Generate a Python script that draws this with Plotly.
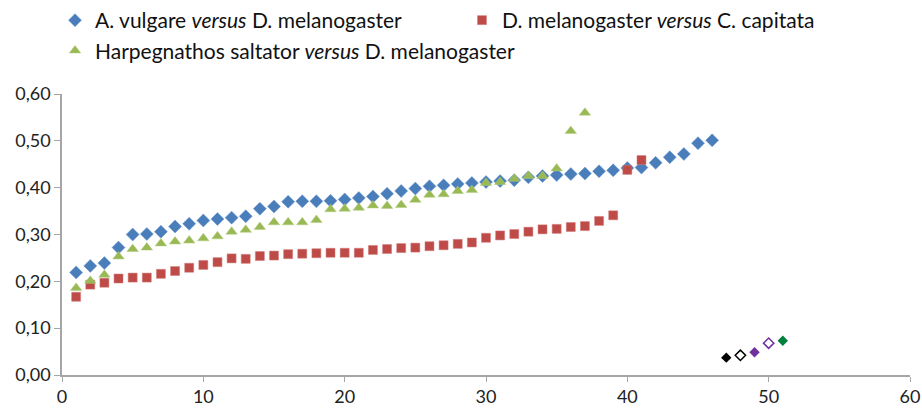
import plotly.graph_objects as go

# Series values (index 1..n)
vulgare = [0.219, 0.233, 0.239, 0.272, 0.300, 0.301, 0.306, 0.317, 0.323, 0.330,
           0.333, 0.336, 0.339, 0.355, 0.360, 0.370, 0.371, 0.371, 0.372, 0.375,
           0.378, 0.381, 0.387, 0.393, 0.398, 0.403, 0.405, 0.408, 0.410, 0.412,
           0.414, 0.416, 0.422, 0.425, 0.427, 0.429, 0.430, 0.435, 0.437, 0.442,
           0.443, 0.453, 0.465, 0.472, 0.495, 0.501]
capitata = [0.167, 0.193, 0.197, 0.206, 0.208, 0.208, 0.216, 0.222, 0.229, 0.235,
            0.241, 0.249, 0.248, 0.254, 0.255, 0.258, 0.259, 0.260, 0.261, 0.261,
            0.261, 0.267, 0.269, 0.271, 0.272, 0.275, 0.277, 0.280, 0.283, 0.293,
            0.298, 0.301, 0.306, 0.311, 0.312, 0.316, 0.318, 0.329, 0.341, 0.438,
            0.459]
saltator = [0.186, 0.201, 0.214, 0.253, 0.269, 0.272, 0.281, 0.285, 0.287, 0.292,
            0.296, 0.306, 0.310, 0.316, 0.326, 0.326, 0.326, 0.331, 0.354, 0.355,
            0.357, 0.362, 0.361, 0.363, 0.374, 0.385, 0.386, 0.393, 0.395, 0.410,
            0.412, 0.419, 0.425, 0.425, 0.441, 0.521, 0.560]

# Separate single markers at the lower right
extra_x = [47, 48, 49, 50, 51]
extra_y = [0.037, 0.042, 0.0485, 0.068, 0.073]
extra_colors = ["#000000", "#000000", "#7030A0", "#7030A0", "#00803C"]
extra_symbols = ["diamond", "diamond-open", "diamond", "diamond-open", "diamond"]

names = ["A. vulgare <i>versus</i> D. melanogaster",
         "D. melanogaster <i>versus</i> C. capitata",
         "Harpegnathos saltator <i>versus</i> D. melanogaster"]

fig = go.Figure()
fig.add_trace(go.Scatter(x=list(range(1, len(vulgare) + 1)), y=vulgare, mode="markers",
                         name=names[0],
                         marker=dict(symbol="diamond", size=10, color="#4A7EBB",
                                     line=dict(width=0.5, color="#6A96CF"))))
fig.add_trace(go.Scatter(x=list(range(1, len(capitata) + 1)), y=capitata, mode="markers",
                         name=names[1],
                         marker=dict(symbol="square", size=9, color="#BE4B48",
                                     line=dict(width=0.5, color="#D07A78"))))
fig.add_trace(go.Scatter(x=list(range(1, len(saltator) + 1)), y=saltator, mode="markers",
                         name=names[2],
                         marker=dict(symbol="triangle-up", size=10, color="#98B954",
                                     line=dict(width=0.5, color="#B3CD80"))))
for xv, yv, c, s in zip(extra_x, extra_y, extra_colors, extra_symbols):
    fig.add_trace(go.Scatter(x=[xv], y=[yv], mode="markers", showlegend=False,
                             marker=dict(symbol=s, size=8, color=c,
                                         line=dict(width=1.5 if "open" in s else 0, color=c))))

W, H = 922, 408
axis_font = dict(family="Lato", size=18, color="#222222")
fig.update_layout(
    width=W, height=H,
    margin=dict(l=62, r=12, t=94, b=33),
    paper_bgcolor="white", plot_bgcolor="white",
    separators=", ",
    showlegend=True,
    legend=dict(orientation="h", xref="container", x=55 / W, xanchor="left",
                yref="container", y=1.0, yanchor="top",
                entrywidth=362, entrywidthmode="pixels",
                font=dict(family="Lato", size=21, color="#111111"),
                itemwidth=30, bgcolor="rgba(0,0,0,0)"),
    xaxis=dict(range=[0, 60], dtick=10, tick0=0, showgrid=False, zeroline=False,
               showline=True, linecolor="#A6A6A6", linewidth=1.5,
               ticks="outside", ticklen=5, tickcolor="#A6A6A6",
               tickfont=axis_font, automargin=False),
    yaxis=dict(range=[0, 0.6], dtick=0.1, tick0=0, tickformat=".2f", showgrid=False,
               zeroline=False, showline=True, linecolor="#A6A6A6", linewidth=1.5,
               ticks="outside", ticklen=6, tickcolor="#A6A6A6",
               tickfont=axis_font, automargin=False),
)

fig.write_html("out.html", config={"displayModeBar": False},
               post_script="document.body.style.margin='0';document.body.style.overflow='hidden';")
